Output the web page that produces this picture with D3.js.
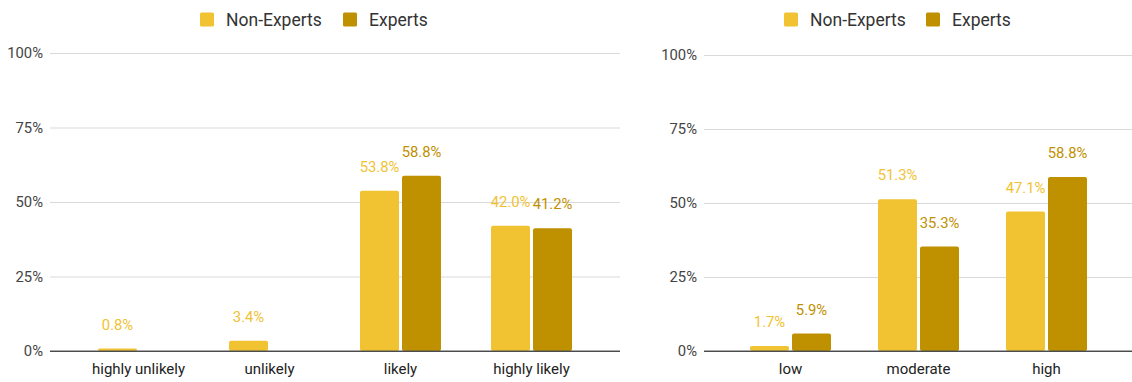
<!DOCTYPE html>
<html>
<head>
<meta charset="utf-8">
<script src="https://cdn.jsdelivr.net/npm/d3@7"></script>
<style>
  html, body { margin: 0; padding: 0; background: #fff; }
  svg { display: block; font-family: Roboto, "Noto Sans", sans-serif; }
</style>
</head>
<body>
<svg id="chart" width="1132" height="382"></svg>
<script>
// ---- data ----
const seriesNames = ["Non-Experts", "Experts"];
const seriesColors = ["#f1c232", "#bf9000"];
const yTicks = [0, 25, 50, 75, 100];

const leftCategories = ["highly unlikely", "unlikely", "likely", "highly likely"];
const leftNonExperts = [0.8, 3.4, 53.8, 42.0];
const leftExperts = [0, 0, 58.8, 41.2];

const rightCategories = ["low", "moderate", "high"];
const rightNonExperts = [1.7, 51.3, 47.1];
const rightExperts = [5.9, 35.3, 58.8];

// ---- drawing ----
const svg = d3.select("#chart");

function drawPanel(cfg) {
  const g = svg.append("g");
  const y = d3.scaleLinear().domain([0, 100]).range([cfg.y0, cfg.y100]);
  const step = (cfg.xRange[1] - cfg.xRange[0]) / cfg.categories.length;
  const pad = (step - 81) / step;
  const x0 = d3.scaleBand().domain(cfg.categories).range(cfg.xRange)
    .paddingInner(pad).paddingOuter(pad / 2);
  const x1 = d3.scaleBand().domain(seriesNames).range([0, x0.bandwidth()])
    .paddingInner(3 / 42);

  // gridlines
  const axisG = g.append("g").attr("transform", `translate(${cfg.gridStart},0)`)
    .call(d3.axisLeft(y).tickValues(yTicks).tickFormat(d => d + "%")
      .tickSize(-(cfg.gridEnd - cfg.gridStart)).tickPadding(7));
  axisG.select(".domain").remove();
  axisG.selectAll(".tick line").attr("stroke", d => d === 0 ? "#444" : "#d9d9d9")
    .attr("stroke-width", 1.2);
  axisG.selectAll(".tick text").attr("fill", "#444").style("font-size", "14.8px")
    .attr("font-family", "Roboto");

  const rows = cfg.categories.map((c, i) => ({ c, vals: [cfg.s1[i], cfg.s2[i]] }));

  const groups = g.selectAll("g.cat").data(rows).enter().append("g")
    .attr("transform", d => `translate(${x0(d.c)},0)`);

  groups.selectAll("rect").data(d => d.vals.map((v, k) => ({ v, k })).filter(e => e.v > 0))
    .enter().append("rect")
    .attr("x", d => x1(seriesNames[d.k]))
    .attr("width", x1.bandwidth())
    .attr("y", d => y(d.v))
    .attr("height", d => Math.max(0, y(0) - y(d.v)))
    .attr("rx", 2).attr("ry", 2)
    .attr("fill", d => seriesColors[d.k]);

  groups.selectAll("text.val").data(d => d.vals.map((v, k) => ({ v, k })).filter(e => e.v > 0))
    .enter().append("text").attr("class", "val")
    .attr("x", d => x1(seriesNames[d.k]) + x1.bandwidth() / 2)
    .attr("y", d => y(d.v) - 19)
    .attr("text-anchor", "middle")
    .style("font-size", "14.8px")
    .attr("fill", d => seriesColors[d.k])
    .text(d => d.v.toFixed(1) + "%");

  // zero line on top
  g.append("line").attr("x1", cfg.gridStart).attr("x2", cfg.gridEnd)
    .attr("y1", y(0)).attr("y2", y(0)).attr("stroke", "#555").attr("stroke-width", 1.2);

  // category labels
  g.selectAll("text.cat").data(cfg.categories).enter().append("text").attr("class", "cat")
    .attr("x", d => x0(d) + x0.bandwidth() / 2)
    .attr("y", 374)
    .attr("text-anchor", "middle")
    .style("font-size", "15px")
    .attr("fill", "#222")
    .text(d => d);

  // legend
  const lg = g.append("g");
  cfg.legendSquares.forEach((sx, k) => {
    lg.append("rect").attr("x", sx).attr("y", 12.5).attr("width", 14).attr("height", 14)
      .attr("rx", 1.5).attr("fill", seriesColors[k]);
    lg.append("text").attr("x", sx + 26).attr("y", 26)
      .style("font-size", "17.5px").attr("fill", "#333").text(seriesNames[k]);
  });
}

drawPanel({
  categories: leftCategories, s1: leftNonExperts, s2: leftExperts,
  y0: 351, y100: 53, xRange: [73, 597], gridStart: 50, gridEnd: 620,
  legendSquares: [200, 343]
});
drawPanel({
  categories: rightCategories, s1: rightNonExperts, s2: rightExperts,
  y0: 351, y100: 55, xRange: [726.5, 1110.5], gridStart: 704, gridEnd: 1132,
  legendSquares: [784, 926]
});
</script>
</body>
</html>
